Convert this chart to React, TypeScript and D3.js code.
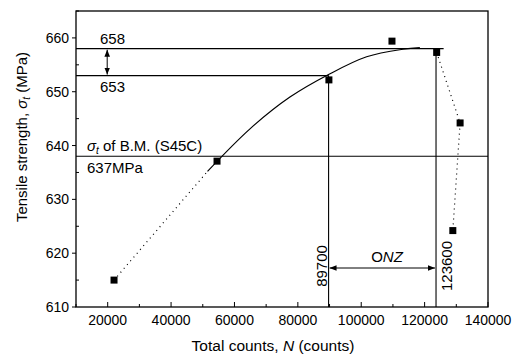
import React, { useEffect, useRef } from "react";
import * as d3 from "d3";

// measured points: total counts N vs tensile strength
const countsN = [22000, 54500, 89800, 109700, 123800, 131200, 128900];
const strength = [615.0, 637.1, 652.2, 659.4, 657.3, 644.2, 624.2];

// fitted solid curve
const fitN = [51500, 64900, 77500, 89700, 101700, 113200, 118500];
const fitS = [635.2, 643.1, 649.0, 653.2, 656.5, 657.9, 658.2];

// dotted connectors
const dotLeftN = [22000, 51500];
const dotLeftS = [615.0, 635.2];
const dotRightN = [123800, 131200, 128900];
const dotRightS = [657.3, 644.2, 624.2];

const xTicks = [20000, 40000, 60000, 80000, 100000, 120000, 140000];
const yTicks = [610, 620, 630, 640, 650, 660];

const maxS = 658;
const onsetS = 653;
const baseS = 638;
const onsetN = 89700;
const peakN = 123600;
const maxLineEndN = 126000;

export default function App() {
  const svgRef = useRef<SVGSVGElement>(null);
  const width = 518;
  const height = 356;

  useEffect(() => {
    if (!svgRef.current) return;
    const svg = d3.select(svgRef.current);
    svg.selectAll("*").remove();

    const margin = { top: 11, right: 30, bottom: 49, left: 76 };
    const iW = width - margin.left - margin.right;
    const iH = height - margin.top - margin.bottom;
    const font = "'Liberation Sans', Arial, sans-serif";

    const x = d3.scaleLinear().domain([10000, 140000]).range([0, iW]);
    const y = d3.scaleLinear().domain([610, 665]).range([iH, 0]);

    const g = svg
      .append("g")
      .attr("transform", `translate(${margin.left},${margin.top})`);

    svg
      .append("defs")
      .append("marker")
      .attr("id", "arr")
      .attr("viewBox", "0 0 10 10")
      .attr("refX", 10)
      .attr("refY", 5)
      .attr("markerWidth", 7)
      .attr("markerHeight", 7)
      .attr("orient", "auto-start-reverse")
      .attr("markerUnits", "userSpaceOnUse")
      .append("path")
      .attr("d", "M0,1 L10,5 L0,9 Z")
      .attr("fill", "#000");

    // frame
    g.append("rect")
      .attr("width", iW)
      .attr("height", iH)
      .attr("fill", "none")
      .attr("stroke", "#000")
      .attr("stroke-width", 1.3);

    // x ticks (inward)
    const xMinor = d3.range(10000, 140001, 10000);
    g.selectAll("line.xt")
      .data(xMinor)
      .enter()
      .append("line")
      .attr("x1", (d) => x(d))
      .attr("x2", (d) => x(d))
      .attr("y1", iH)
      .attr("y2", (d) => iH - (d % 20000 === 0 ? 5 : 3))
      .attr("stroke", "#000");
    g.selectAll("text.xl")
      .data(xTicks)
      .enter()
      .append("text")
      .attr("x", (d) => x(d))
      .attr("y", iH + 18)
      .attr("text-anchor", "middle")
      .style("font-family", font)
      .style("font-size", "14px")
      .text((d) => String(d));

    // y ticks (major outward, minor inward)
    g.selectAll("line.yt")
      .data(yTicks)
      .enter()
      .append("line")
      .attr("x1", -4)
      .attr("x2", 0)
      .attr("y1", (d) => y(d))
      .attr("y2", (d) => y(d))
      .attr("stroke", "#000");
    g.selectAll("line.ym")
      .data(d3.range(615, 666, 10))
      .enter()
      .append("line")
      .attr("x1", 0)
      .attr("x2", 3)
      .attr("y1", (d) => y(d))
      .attr("y2", (d) => y(d))
      .attr("stroke", "#000");
    g.selectAll("text.yl")
      .data(yTicks)
      .enter()
      .append("text")
      .attr("x", -7)
      .attr("y", (d) => y(d) + 5)
      .attr("text-anchor", "end")
      .style("font-family", font)
      .style("font-size", "14px")
      .text((d) => String(d));

    // axis titles
    const xt = svg
      .append("text")
      .attr("x", 273)
      .attr("y", 351)
      .attr("text-anchor", "middle")
      .style("font-family", font)
      .style("font-size", "15.5px");
    xt.append("tspan").text("Total counts, ");
    xt.append("tspan").style("font-style", "italic").text("N");
    xt.append("tspan").text(" (counts)");

    const yt = svg
      .append("text")
      .attr("transform", "translate(27,137) rotate(-90)")
      .attr("text-anchor", "middle")
      .style("font-family", font)
      .style("font-size", "15px");
    yt.append("tspan").text("Tensile strength,  ");
    yt.append("tspan").style("font-style", "italic").text("σ");
    yt.append("tspan").attr("dy", 3).style("font-size", "10px").style("font-style", "italic").text("t");
    yt.append("tspan").attr("dy", -3).text(" (MPa)");

    // reference lines
    const hLine = (v: number, x2: number) =>
      g.append("line")
        .attr("x1", 0)
        .attr("x2", x2)
        .attr("y1", y(v))
        .attr("y2", y(v))
        .attr("stroke", "#000")
        .attr("stroke-width", 1.1);
    hLine(maxS, x(maxLineEndN));
    hLine(onsetS, x(onsetN));
    hLine(baseS, iW);

    const vLine = (n: number, top: number) =>
      g.append("line")
        .attr("x1", x(n))
        .attr("x2", x(n))
        .attr("y1", y(top))
        .attr("y2", iH)
        .attr("stroke", "#000")
        .attr("stroke-width", 1.1);
    vLine(onsetN, onsetS);
    vLine(peakN, maxS);

    // arrows
    const ax = x(20000) - 0.5;
    g.append("line")
      .attr("x1", ax)
      .attr("x2", ax)
      .attr("y1", y(maxS) + 1)
      .attr("y2", y(onsetS) - 1)
      .attr("stroke", "#000")
      .attr("marker-start", "url(#arr)")
      .attr("marker-end", "url(#arr)");

    const ay = 268 - margin.top;
    g.append("line")
      .attr("x1", x(onsetN) + 1)
      .attr("x2", x(peakN) - 1)
      .attr("y1", ay)
      .attr("y2", ay)
      .attr("stroke", "#000")
      .attr("marker-start", "url(#arr)")
      .attr("marker-end", "url(#arr)");

    // dotted connectors
    const line = d3
      .line<[number, number]>()
      .x((d) => x(d[0]))
      .y((d) => y(d[1]));
    const dotted = (ns: number[], ss: number[]) =>
      g.append("path")
        .datum(ns.map((n, i) => [n, ss[i]] as [number, number]))
        .attr("fill", "none")
        .attr("stroke", "#000")
        .attr("stroke-width", 1.2)
        .attr("stroke-dasharray", "1,4")
        .attr("d", line);
    dotted(dotLeftN, dotLeftS);
    dotted(dotRightN, dotRightS);

    // fitted curve
    g.append("path")
      .datum(fitN.map((n, i) => [n, fitS[i]] as [number, number]))
      .attr("fill", "none")
      .attr("stroke", "#000")
      .attr("stroke-width", 1.2)
      .attr("d", line.curve(d3.curveCatmullRom.alpha(0.5)));

    // markers
    g.selectAll("rect.pt")
      .data(countsN)
      .enter()
      .append("rect")
      .attr("x", (d) => x(d) - 3.5)
      .attr("y", (_, i) => y(strength[i]) - 3.5)
      .attr("width", 7)
      .attr("height", 7)
      .attr("fill", "#000");

    // annotations
    const label = (tx: number, ty: number, s: string) =>
      svg
        .append("text")
        .attr("x", tx)
        .attr("y", ty)
        .style("font-family", font)
        .style("font-size", "15px")
        .text(s);
    label(100, 44, "658");
    label(100, 92, "653");
    label(87, 173, "637MPa");

    const bm = svg
      .append("text")
      .attr("x", 87)
      .attr("y", 151)
      .style("font-family", font)
      .style("font-size", "15px");
    bm.append("tspan").style("font-style", "italic").text("σ");
    bm.append("tspan").attr("dy", 3).style("font-size", "10px").style("font-style", "italic").text("t");
    bm.append("tspan").attr("dy", -3).text(" of B.M. (S45C)");

    const onz = svg
      .append("text")
      .attr("x", 387)
      .attr("y", 262)
      .attr("text-anchor", "middle")
      .style("font-family", font)
      .style("font-size", "15px");
    onz.append("tspan").text("O");
    onz.append("tspan").style("font-style", "italic").text("NZ");

    const vLabel = (tx: number, s: string) =>
      svg
        .append("text")
        .attr("transform", `translate(${tx},266) rotate(-90)`)
        .attr("text-anchor", "middle")
        .style("font-family", font)
        .style("font-size", "15px")
        .text(s);
    vLabel(327, "89700");
    vLabel(452, "123600");
  }, []);

  return (
    <svg
      ref={svgRef}
      width={width}
      height={height}
      viewBox={`0 0 ${width} ${height}`}
      style={{ position: "absolute", left: 0, top: 0, background: "#fff" }}
    />
  );
}
